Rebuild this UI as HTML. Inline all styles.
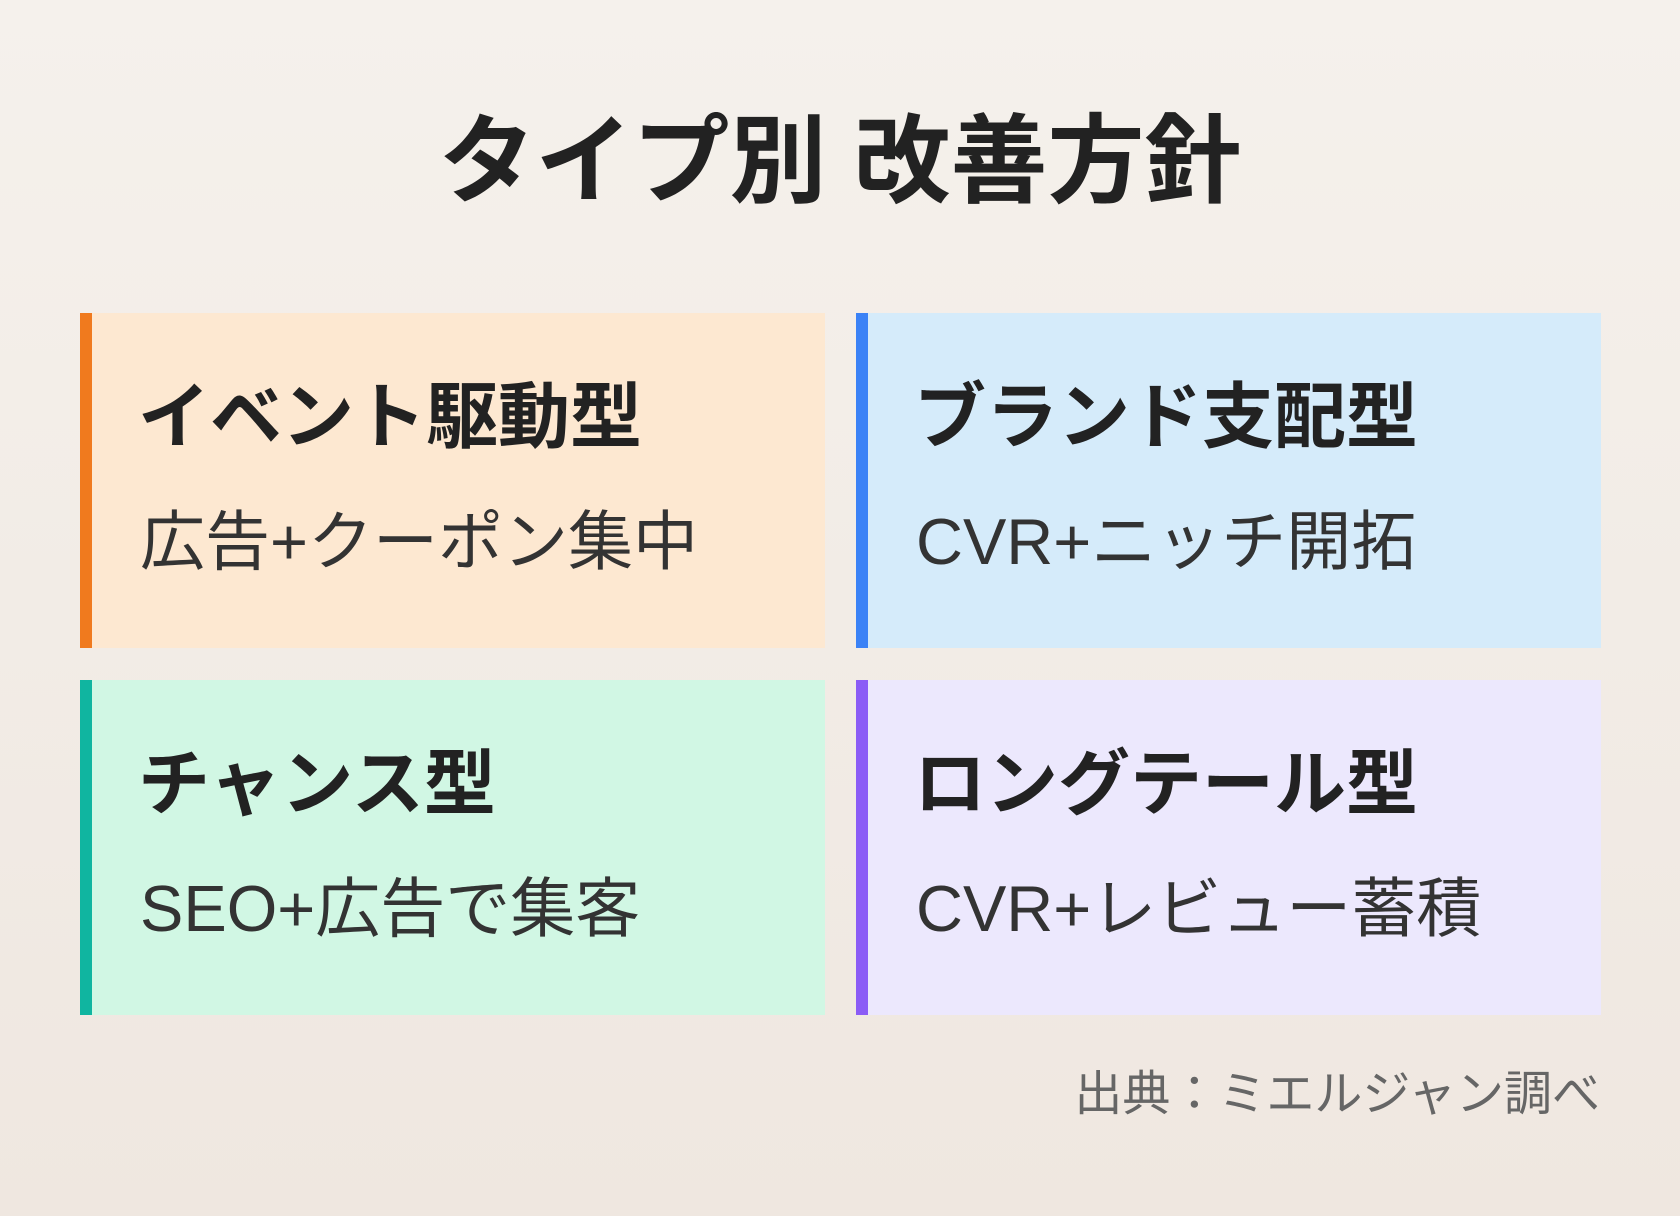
<!DOCTYPE html>
<html><head><meta charset="utf-8"><style>
body{margin:0;width:1680px;height:1216px;background:linear-gradient(#f5f1ec,#efe7e0);font-family:"Liberation Sans","Noto Sans CJK JP",sans-serif;position:relative;overflow:hidden}
.t{position:absolute;left:0;width:1680px;top:102px;text-align:center;font-size:97px;font-weight:bold;color:#222;line-height:120px}
.c{position:absolute;width:745px;height:335px;box-sizing:border-box;border-left:12px solid}
.h{position:absolute;left:46px;top:60px;font-size:72px;font-weight:bold;color:#222;line-height:90px;white-space:nowrap}
.s{position:absolute;left:48px;top:189px;font-size:65px;color:#333;line-height:80px;white-space:nowrap}
.src{position:absolute;right:80px;top:1065px;font-size:48px;color:#666;line-height:60px}
</style></head><body>
<div class="t">タイプ別 改善方針</div>
<div class="c" style="left:80px;top:313px;background:#fde8d1;border-color:#f07a1e"><div class="h">イベント駆動型</div><div class="s">広告+クーポン集中</div></div>
<div class="c" style="left:856px;top:313px;background:#d5ebfa;border-color:#3b82f6"><div class="h">ブランド支配型</div><div class="s">CVR+ニッチ開拓</div></div>
<div class="c" style="left:80px;top:680px;background:#d1f7e4;border-color:#10b5a0"><div class="h">チャンス型</div><div class="s">SEO+広告で集客</div></div>
<div class="c" style="left:856px;top:680px;background:#ece8fd;border-color:#8b5cf6"><div class="h">ロングテール型</div><div class="s">CVR+レビュー蓄積</div></div>
<div class="src">出典：ミエルジャン調べ</div>
</body></html>
